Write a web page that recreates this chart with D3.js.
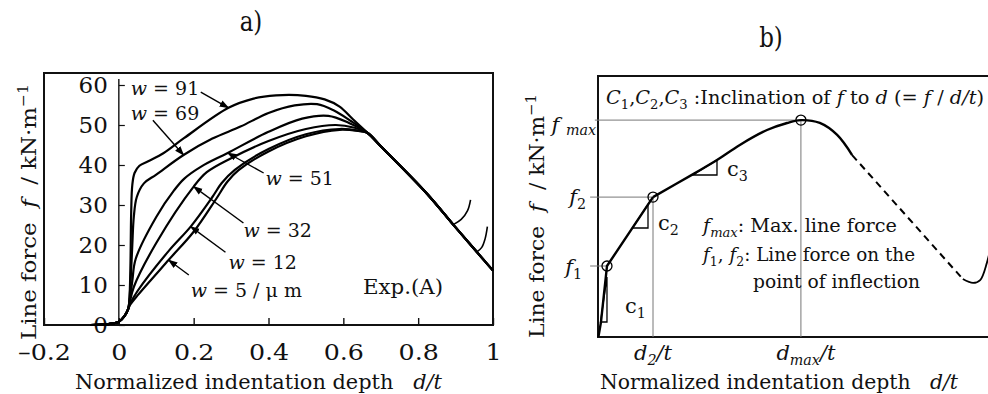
<!DOCTYPE html>
<html>
<head>
<meta charset="utf-8">
<script src="https://cdn.jsdelivr.net/npm/d3@7"></script>
<style>
  html, body { margin: 0; padding: 0; background: #fff; }
  svg { display: block; }
  text { font-family: "DejaVu Serif", serif; fill: #111; }
</style>
</head>
<body>
<svg id="fig" width="988" height="394"></svg>
<script>
// ---------- Panel a: measured line force vs. normalized indentation depth ----------
const xTicksA = [-0.2, 0, 0.2, 0.4, 0.6, 0.8, 1];
const yTicksA = [0, 10, 20, 30, 40, 50, 60];
const widthsA = [91, 69, 51, 32, 12, 5];   // blade width w / µm

// shared initial contact (d/t, f)
const toe = [[-0.075, 0], [-0.03, 0.2], [0, 0.8], [0.015, 2.2], [0.025, 4]];
// shared descending branch after the peak
const descent = [[0.665, 48], [0.7, 44.7], [0.823, 32.9], [0.9, 24.4], [1.0, 13.6]];

const curveW91 = [[0.028, 6], [0.031, 15], [0.033, 28], [0.036, 35], [0.042, 38], [0.055, 39.8],
  [0.08, 41], [0.12, 43], [0.174, 46.7], [0.293, 54.3], [0.36, 56.6], [0.42, 57.4], [0.5, 57.3],
  [0.55, 56.4], [0.59, 54.6], [0.625, 51.5]];
const curveW69 = [[0.028, 6], [0.032, 12], [0.036, 20], [0.04, 27], [0.048, 32], [0.067, 35.4],
  [0.1, 37.6], [0.173, 42.5], [0.25, 46.6], [0.325, 49.6], [0.4, 53], [0.47, 54.9], [0.53, 55.2],
  [0.575, 53.6], [0.62, 51]];
const curveW51 = [[0.028, 5.5], [0.036, 11], [0.045, 16.5], [0.1, 27], [0.148, 33.7], [0.175, 36.6],
  [0.22, 39.6], [0.291, 43], [0.4, 48.3], [0.49, 51.6], [0.56, 52.3], [0.615, 50.5]];
const curveW32 = [[0.028, 5.2], [0.04, 9.5], [0.1, 20.5], [0.2, 34.6], [0.235, 38.2], [0.3, 41.7],
  [0.4, 46], [0.5, 49], [0.58, 50], [0.63, 49.3]];
const curveW12 = [[0.03, 5.3], [0.05, 8.5], [0.134, 18.6], [0.192, 24.6], [0.25, 32], [0.275, 35.5],
  [0.31, 38.8], [0.4, 44], [0.5, 47.7], [0.59, 49], [0.64, 48.6]];
const curveW5 = [[0.03, 5], [0.05, 7.4], [0.133, 16.25], [0.2, 23.3], [0.26, 31.5], [0.29, 35.8],
  [0.32, 38.7], [0.4, 43.4], [0.5, 47.2], [0.59, 48.8], [0.64, 48.5]];

// unloading hooks where two tests stopped
const hookW91 = [[0.894, 25.1], [0.915, 26.4], [0.932, 28.6], [0.94, 31.3]];
const hookW69 = [[0.957, 18.3], [0.97, 19.4], [0.979, 21.6], [0.985, 24.6]];

// label anchors (left edge, mid-height) and leader lines
const labelAt = [[0.032, 59.2], [0.032, 53], [0.392, 36.7], [0.333, 23.7], [0.293, 15.7], [0.192, 8.7]];
const leaderFrom = [[0.219, 58.2], [0.091, 51.2], [0.387, 38], [0.333, 25.5], [0.285, 18.2], [0.187, 12.5]];
const leaderTo = [[0.293, 54.3], [0.173, 42.5], [0.291, 43], [0.2, 34.6], [0.192, 24.6], [0.133, 16.25]];

// ---------- Panel b: schematic of the characteristic points ----------
const riseB = [[0.1, 0], [0.76, 5.75], [2.28, 27.2], [13.96, 53.6]];
const peakB = [[13.96, 53.6], [24.6, 62.8], [30.2, 67.8], [36.0, 73.6], [42.9, 79.3], [48.0, 82.0],
  [51.5, 83.1], [56.3, 82.0], [60.7, 77.4], [64.5, 69.7]];
const fallB = [[64.5, 69.7], [92.6, 22.2]];
const reboundB = [[92.6, 22.2], [95.2, 20.7], [97.0, 21.8], [98.7, 28.4], [100, 37]];
const pointF1 = [2.28, 27.2];
const pointF2 = [13.96, 53.6];
const pointMax = [51.5, 83.1];
const slopeC1 = [[0.63, 5.75], [2.28, 5.75], [2.28, 23.0]];
const slopeC2 = [[8.71, 41.76], [12.69, 41.76], [12.69, 50.77]];
const slopeC3 = [[24.1, 62.07], [30.2, 62.07], [30.2, 67.8]];

const svg = d3.select("#fig");
const INK = "#111";

// text with italic / sub / superscript runs
function rich(g, x, y, parts, o = {}) {
  const size = o.size || 20;
  const t = g.append("text")
    .attr("x", x).attr("y", y)
    .attr("font-size", size)
    .attr("text-anchor", o.anchor || "start");
  if (o.rotate) t.attr("transform", `rotate(${o.rotate},${x},${y})`);
  let shift = 0;
  parts.forEach(p => {
    const [s, kind] = typeof p === "string" ? [p, ""] : p;
    const ts = t.append("tspan").text(s);
    let target = 0;
    if (kind.includes("sub")) target = (o.subDrop != null ? o.subDrop : 0.25) * size;
    if (kind.includes("sup")) target = -0.4 * size;
    ts.attr("dy", target - shift);
    shift = target;
    if (kind.startsWith("i")) ts.attr("font-style", "italic");
    if (kind.includes("sub") || kind.includes("sup")) ts.attr("font-size", size * 0.68);
  });
  if (o.len) t.attr("textLength", o.len).attr("lengthAdjust", "spacingAndGlyphs");
  return t;
}

const NB = "\u00a0";

// ===== panel a =====
const xA = d3.scaleLinear().domain([-0.2, 1]).range([44, 493]);
const yA = d3.scaleLinear().domain([0, 60]).range([325, 85]);
const gA = svg.append("g");

// frame
gA.append("rect")
  .attr("x", xA(-0.2)).attr("y", yA(63))
  .attr("width", xA(1) - xA(-0.2)).attr("height", yA(0) - yA(63))
  .attr("fill", "none").attr("stroke", INK).attr("stroke-width", 2);

// x axis along the bottom, inward ticks
const axA = gA.append("g").attr("transform", `translate(0,${yA(0)})`)
  .call(d3.axisBottom(xA).tickValues(xTicksA).tickSizeInner(-7).tickSizeOuter(0).tickPadding(19)
    .tickFormat(d => d === 0 ? "0" : d === 1 ? "1" : (d < 0 ? "\u2013" : "") + Math.abs(d).toFixed(1)));
axA.select(".domain").remove();
axA.selectAll("line").attr("stroke", INK).attr("stroke-width", 1.4);
axA.selectAll("text").attr("font-size", 23).attr("font-family", "DejaVu Serif").attr("fill", INK)
  .attr("transform", "scale(1.1,1)");

// y axis standing at d/t = 0
const ayA = gA.append("g").attr("transform", `translate(${xA(0)},0)`)
  .call(d3.axisLeft(yA).tickValues(yTicksA).tickSizeInner(-6).tickSizeOuter(0).tickPadding(11));
ayA.select(".domain").remove();
ayA.selectAll("line").attr("stroke", INK).attr("stroke-width", 1.2);
ayA.selectAll("text").attr("font-size", 23).attr("font-family", "DejaVu Serif").attr("fill", INK);
gA.append("line")
  .attr("x1", xA(0)).attr("x2", xA(0)).attr("y1", yA(0)).attr("y2", yA(61.5))
  .attr("stroke", INK).attr("stroke-width", 1.4);

const lineA = d3.line().x(d => xA(d[0])).y(d => yA(d[1])).curve(d3.curveCatmullRom.alpha(0.5));
const seriesA = [
  toe.concat(curveW91, descent.filter(p => p[0] <= 0.823), [[0.894, 25.1]]),
  toe.concat(curveW69, descent.filter(p => p[0] <= 0.9), [[0.957, 18.3]]),
  toe.concat(curveW51, descent),
  toe.concat(curveW32, descent),
  toe.concat(curveW12, descent),
  toe.concat(curveW5, descent)
];
gA.append("g").selectAll("path").data(seriesA).join("path")
  .attr("d", lineA).attr("fill", "none").attr("stroke", "#000").attr("stroke-width", 2.2)
  .attr("stroke-linejoin", "round");
gA.append("g").selectAll("path").data([hookW91, hookW69]).join("path")
  .attr("d", lineA).attr("fill", "none").attr("stroke", "#000").attr("stroke-width", 1.6);

// leader lines with small arrowheads
svg.append("defs").append("marker")
  .attr("id", "tip").attr("viewBox", "0 0 10 10").attr("refX", 9).attr("refY", 5)
  .attr("markerWidth", 7).attr("markerHeight", 7).attr("orient", "auto")
  .append("path").attr("d", "M0,1.5 L10,5 L0,8.5 Z").attr("fill", "#000");
gA.append("g").selectAll("line").data(widthsA).join("line")
  .attr("x1", (d, i) => xA(leaderFrom[i][0])).attr("y1", (d, i) => yA(leaderFrom[i][1]))
  .attr("x2", (d, i) => xA(leaderTo[i][0])).attr("y2", (d, i) => yA(leaderTo[i][1]))
  .attr("stroke", "#000").attr("stroke-width", 1.4).attr("marker-end", "url(#tip)");
widthsA.forEach((w, i) => {
  const parts = [["w", "i"], NB + "=" + NB + w];
  if (w === 5) parts.push(NB + "/" + NB + "\u03bc" + NB + "m");
  rich(gA, xA(labelAt[i][0]), yA(labelAt[i][1]) + 7, parts, { size: 19 });
});
rich(gA, 363, 294, ["Exp.(A)"], { size: 20, len: 80 });

// axis titles
rich(gA, 75, 389, ["Normalized indentation depth" + NB + NB + NB, ["d/t", "i"]], { size: 20, len: 367 });
rich(gA, 36, 212, ["Line force" + NB + NB, ["f", "i"], NB + NB + "/" + NB + "kN\u00b7m", ["\u22121", "sup"]],
  { size: 21, anchor: "middle", rotate: -90, len: 256 });

// ===== panel b =====
const xB = d3.scaleLinear().domain([0, 100]).range([598, 992]);
const yB = d3.scaleLinear().domain([0, 100]).range([337, 76]);
const gB = svg.append("g");

// frame (open on the right, beyond the page edge)
gB.append("path")
  .attr("d", `M${xB(100)},${yB(100)} H${xB(0)} V${yB(0)} H${xB(100)}`)
  .attr("fill", "none").attr("stroke", INK).attr("stroke-width", 2);

// guide lines to the characteristic points
const guide = gB.append("g").attr("stroke", "#777").attr("stroke-width", 1).attr("fill", "none");
guide.append("line").attr("x1", xB(-0.8)).attr("x2", xB(pointMax[0])).attr("y1", yB(pointMax[1])).attr("y2", yB(pointMax[1]));
guide.append("line").attr("x1", xB(-2)).attr("x2", xB(pointF2[0])).attr("y1", yB(pointF2[1])).attr("y2", yB(pointF2[1]));
guide.append("line").attr("x1", xB(-2)).attr("x2", xB(pointF1[0])).attr("y1", yB(pointF1[1])).attr("y2", yB(pointF1[1]));
guide.append("line").attr("x1", xB(pointF2[0])).attr("x2", xB(pointF2[0])).attr("y1", yB(pointF2[1])).attr("y2", yB(0));
guide.append("line").attr("x1", xB(pointMax[0])).attr("x2", xB(pointMax[0])).attr("y1", yB(pointMax[1])).attr("y2", yB(0));

const lineB = d3.line().x(d => xB(d[0])).y(d => yB(d[1]));
gB.append("path").attr("d", lineB(riseB))
  .attr("fill", "none").attr("stroke", "#000").attr("stroke-width", 2.4).attr("stroke-linejoin", "round");
gB.append("path").attr("d", lineB.curve(d3.curveCatmullRom.alpha(0.5))(peakB))
  .attr("fill", "none").attr("stroke", "#000").attr("stroke-width", 2.4);
gB.append("path").attr("d", d3.line().x(d => xB(d[0])).y(d => yB(d[1]))(fallB))
  .attr("fill", "none").attr("stroke", "#000").attr("stroke-width", 2).attr("stroke-dasharray", "7 5");
gB.append("path").attr("d", d3.line().x(d => xB(d[0])).y(d => yB(d[1])).curve(d3.curveCatmullRom.alpha(0.5))(reboundB))
  .attr("fill", "none").attr("stroke", "#000").attr("stroke-width", 1.8);

// slope triangles
gB.append("g").selectAll("path").data([slopeC1, slopeC2, slopeC3]).join("path")
  .attr("d", d => d3.line().x(p => xB(p[0])).y(p => yB(p[1]))(d) + "Z")
  .attr("fill", "none").attr("stroke", "#000").attr("stroke-width", 1.3);

// characteristic points
gB.append("g").selectAll("circle").data([pointF1, pointF2, pointMax]).join("circle")
  .attr("cx", d => xB(d[0])).attr("cy", d => yB(d[1])).attr("r", 5)
  .attr("fill", "none").attr("stroke", "#000").attr("stroke-width", 1.3);

// annotations
rich(gB, 606, 104, [["C", "i"], ["1", "sub"], ",", ["C", "i"], ["2", "sub"], ",", ["C", "i"], ["3", "sub"],
  NB + ":Inclination of" + NB, ["f", "i"], NB + "to" + NB, ["d", "i"], NB + "(=" + NB, ["f", "i"], NB + "/" + NB, ["d/t", "i"], ")"],
  { size: 19, len: 378 });
rich(gB, 596, 132, [["f", "i"], NB, ["max", "isub"]], { size: 21, anchor: "end", subDrop: 0.12 });
rich(gB, 586, 204, [["f", "i"], ["2", "sub"]], { size: 21, anchor: "end" });
rich(gB, 582, 274, [["f", "i"], ["1", "sub"]], { size: 21, anchor: "end" });
rich(gB, 625, 313, ["c", ["1", "sub"]], { size: 21 });
rich(gB, 658, 230, ["c", ["2", "sub"]], { size: 21 });
rich(gB, 727, 176, ["c", ["3", "sub"]], { size: 21 });
rich(gB, 703, 232, [["f", "i"], ["max", "isub"], ":" + NB + "Max. line force"], { size: 19, len: 194 });
rich(gB, 703, 261, [["f", "i"], ["1", "sub"], "," + NB, ["f", "i"], ["2", "sub"], ":" + NB + "Line force on the"], { size: 19, len: 212 });
rich(gB, 753, 288, ["point of inflection"], { size: 19, len: 167 });
rich(gB, xB(pointF2[0]), 360, [["d", "i"], ["2", "isub"], ["/t", "i"]], { size: 21, anchor: "middle" });
rich(gB, xB(pointMax[0]) + 5, 360, [["d", "i"], ["max", "isub"], ["/t", "i"]], { size: 21, anchor: "middle" });

rich(gB, 600, 389, ["Normalized indentation depth" + NB + NB + NB, ["d/t", "i"]], { size: 20, len: 358 });
rich(gB, 544, 216, ["Line force" + NB + NB, ["f", "i"], NB + NB + "/" + NB + "kN\u00b7m", ["\u22121", "sup"]],
  { size: 21, anchor: "middle", rotate: -90, len: 244 });

// panel letters
svg.append("text").attr("transform", "translate(251,31) scale(0.85,1)")
  .attr("text-anchor", "middle").attr("font-family", "Liberation Serif").attr("font-size", 27).text("a)");
svg.append("text").attr("transform", "translate(771,47) scale(0.85,1)")
  .attr("text-anchor", "middle").attr("font-family", "Liberation Serif").attr("font-size", 27).text("b)");
</script>
</body>
</html>
